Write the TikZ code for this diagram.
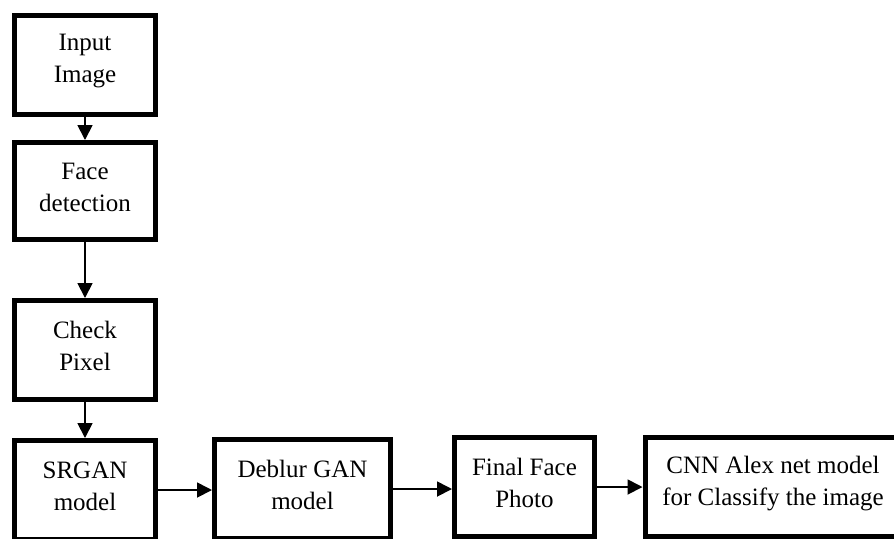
\documentclass[tikz,border=0pt]{standalone}
\usepackage{fontspec}
\setmainfont{Liberation Serif}
\usetikzlibrary{arrows.meta}

\begin{document}
\begin{tikzpicture}[x=0.5pt,y=-0.5pt,
		box/.style={draw,line width=2.5pt,inner sep=0pt,align=center,text depth=4pt,
			font=\fontsize{12.5}{16}\selectfont},
		arr/.style={-{Triangle[length=7.5pt,width=7.5pt]},line width=0.9pt}]
		\useasboundingbox (0,0) rectangle (894,538);
		\clip (0,0) rectangle (894,538);
		\node[box,minimum width=70.5pt,minimum height=49.5pt,text depth=6.5pt] (input) at (85,65) {Input\\Image};
		\node[box,minimum width=70.5pt,minimum height=48.5pt] (face) at (85,191) {Face\\detection};
		\node[box,minimum width=70.5pt,minimum height=49.5pt] (check) at (85,350) {Check\\Pixel};
		\node[box,minimum width=70.5pt,minimum height=49.5pt] (srgan) at (85,490) {SRGAN\\model};
		\node[box,minimum width=88pt,minimum height=49.5pt] (deblur) at (302.5,489) {Deblur GAN\\model};
		\node[box,minimum width=70pt,minimum height=49.5pt] (final) at (524.5,487) {Final Face\\Photo};
		\node[box,minimum width=128pt,minimum height=49.5pt,text depth=6.5pt] (cnn) at (773,487) {CNN Alex net model\\for Classify the image};
		\draw[arr] (input) -- (face);
		\draw[arr] (face) -- (check);
		\draw[arr] (check) -- (srgan);
		\draw[arr] (srgan.east) -- (srgan.east -| deblur.west);
		\draw[arr] (deblur.east) -- (deblur.east -| final.west);
		\draw[arr] (final.east) -- (final.east -| cnn.west);
	\end{tikzpicture}
\end{document}
